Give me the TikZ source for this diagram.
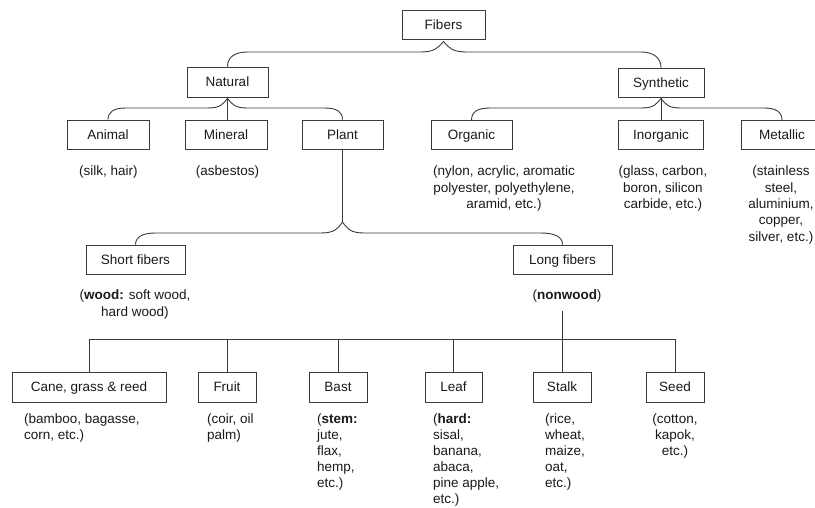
\documentclass[tikz,border=0pt]{standalone}
\usepackage{fontspec}
\setmainfont{Liberation Sans}
\usetikzlibrary{calc}
\definecolor{linec}{HTML}{3A3A3A}
\definecolor{txt}{HTML}{1A1A1A}
\newcommand\fs{\fontsize{13.5pt}{16.3pt}\selectfont}
\newcommand\fsb{\fontsize{13.5pt}{16pt}\selectfont}
\begin{document}
\begin{tikzpicture}[x=1pt,y=-1pt,
  box/.style={draw=linec, line width=0.9pt, minimum height=29pt, inner sep=0pt, font=\fs, text=txt, text height=9.7pt, text depth=0pt},
  note/.style={inner sep=0pt, font=\fs, text=txt, align=center, anchor=north},
  lnote/.style={note, font=\fsb, align=left, anchor=north west},
  conn/.style={draw=linec, line width=0.9pt}]
\useasboundingbox (0,0) rectangle (815,507);
% boxes
\node[box,minimum width=83pt] (fibers) at (443.5,24.5) {Fibers};
\node[box,minimum width=81pt,minimum height=30pt] (natural) at (227.5,82) {Natural};
\node[box,minimum width=86pt] (synthetic) at (661,82.5) {Synthetic};
\node[box,minimum width=82pt] (animal) at (108,134.5) {Animal};
\node[box,minimum width=82pt] (mineral) at (226,134.5) {Mineral};
\node[box,minimum width=81pt] (plant) at (342.5,134.5) {Plant};
\node[box,minimum width=81pt] (organic) at (471.5,135) {Organic};
\node[box,minimum width=85pt] (inorganic) at (661,135) {Inorganic};
\node[box,minimum width=82pt] (metallic) at (782,135) {Metallic};
\node[box,minimum width=99pt] (short) at (135.5,259.5) {Short fibers};
\node[box,minimum width=99pt] (long) at (562.5,259.5) {Long fibers};
\node[box,minimum width=154pt,minimum height=30pt] (cane) at (89,387) {Cane, grass \& reed};
\node[box,minimum width=58pt,minimum height=30pt] (fruit) at (227,387) {Fruit};
\node[box,minimum width=58pt,minimum height=30pt] (bast) at (338,387) {Bast};
\node[box,minimum width=57pt,minimum height=30pt] (leaf) at (453.5,387) {Leaf};
\node[box,minimum width=58pt,minimum height=30pt] (stalk) at (562,387) {Stalk};
\node[box,minimum width=58pt,minimum height=30pt] (seed) at (675,387) {Seed};
% notes
\node[note] (n-animal) at (108.5,166) {(silk, hair)};
\node[note] (n-mineral) at (227.5,166) {(asbestos)};
\node[note] (n-organic) at (504,166) {(nylon, acrylic, aromatic\\polyester, polyethylene,\\aramid, etc.)};
\node[note] (n-inorganic) at (663,166) {(glass, carbon,\\boron, silicon\\carbide, etc.)};
\node[note] (n-metallic) at (781,166) {(stainless\\steel,\\aluminium,\\copper,\\silver, etc.)};
\node[note] (n-short) at (135,290) {(\textbf{wood:} soft wood,\\hard wood)};
\node[note] (n-long) at (567,290) {(\textbf{nonwood})};
\node[lnote] (n-cane) at (24,413.5) {(bamboo, bagasse,\\corn, etc.)};
\node[lnote] (n-fruit) at (207,413.5) {(coir, oil\\palm)};
\node[lnote] (n-bast) at (317,413.5) {(\textbf{stem:}\\jute,\\flax,\\hemp,\\etc.)};
\node[lnote] (n-leaf) at (433,413.5) {(\textbf{hard:}\\sisal,\\banana,\\abaca,\\pine apple,\\etc.)};
\node[lnote] (n-stalk) at (545,413.5) {(rice,\\wheat,\\maize,\\oat,\\etc.)};
\node[lnote, align=center, anchor=north] (n-seed) at (675,413.5) {(cotton,\\kapok,\\etc.)};
% helper levels
\coordinate (h1) at (0,52);
\coordinate (h2) at (0,108);
\coordinate (h3) at (0,233);
\coordinate (h4) at (0,222);
\coordinate (h5) at (0,339);
\coordinate (h6) at (0,311);
\coordinate (ptip) at (plant.south |- h4);
% Fibers brace
\draw[conn] (natural.north) .. controls +(0,-10) and +(-12,0) .. ($(natural.north |- h1)+(20,0)$)
  -- ($(fibers.south |- h1)+(-24,0)$) .. controls +(15,0) and +(-6,7) .. ($(fibers.south)+(0,2)$)
  .. controls +(6,7) and +(-15,0) .. ($(fibers.south |- h1)+(24,0)$)
  -- ($(synthetic.north |- h1)+(-20,0)$) .. controls +(12,0) and +(0,-10) .. (synthetic.north);
% Natural brace
\draw[conn] (animal.north) .. controls +(0,-8) and +(-12,0) .. ($(animal.north |- h2)+(18,0)$)
  -- ($(natural.south |- h2)+(-20,0)$) .. controls +(13,0) and +(-5,6) .. ($(natural.south)+(0,1)$)
  .. controls +(5,6) and +(-13,0) .. ($(natural.south |- h2)+(20,0)$)
  -- ($(plant.north |- h2)+(-18,0)$) .. controls +(12,0) and +(0,-8) .. (plant.north);
\draw[conn] (natural.south) -- (natural.south |- mineral.north);
% Synthetic brace
\draw[conn] (organic.north) .. controls +(0,-8) and +(-12,0) .. ($(organic.north |- h2)+(18,0)$)
  -- ($(synthetic.south |- h2)+(-20,0)$) .. controls +(13,0) and +(-5,6) .. ($(synthetic.south)+(0,1)$)
  .. controls +(5,6) and +(-13,0) .. ($(synthetic.south |- h2)+(20,0)$)
  -- ($(metallic.north |- h2)+(-18,0)$) .. controls +(12,0) and +(0,-8) .. (metallic.north);
\draw[conn] (synthetic.south) -- (inorganic.north);
% Plant brace
\draw[conn] (plant.south) -- (ptip);
\draw[conn] (short.north) .. controls +(0,-8) and +(-12,0) .. ($(short.north |- h3)+(20,0)$)
  -- ($(plant.south |- h3)+(-22,0)$) .. controls +(14,0) and +(-5,7) .. (ptip)
  .. controls +(5,7) and +(-14,0) .. ($(plant.south |- h3)+(22,0)$)
  -- ($(long.north |- h3)+(-22,0)$) .. controls +(14,0) and +(0,-8) .. (long.north);
% nonwood bar
\draw[conn] (long.south |- h6) -- (long.south |- h5);
\draw[conn] (cane.north |- h5) -- (seed.north |- h5);
\foreach \n in {cane,fruit,bast,leaf,stalk,seed} \draw[conn] (\n.north) -- (\n.north |- h5);
\end{tikzpicture}
\end{document}
